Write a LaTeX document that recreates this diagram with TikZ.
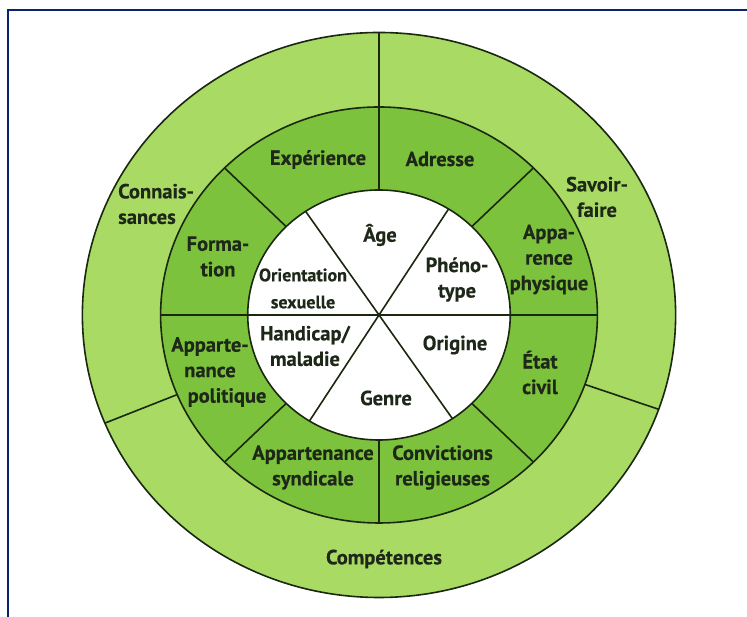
\documentclass[tikz,border=0pt]{standalone}
\usepackage{fontspec}
\setmainfont{PT Sans}[BoldFeatures={FakeBold=0.4}]
\definecolor{outerC}{RGB}{168,218,100}
\definecolor{midC}{RGB}{125,194,60}
\definecolor{lineC}{RGB}{25,40,15}
\definecolor{textC}{RGB}{30,40,25}
\definecolor{frameC}{RGB}{10,35,110}
\begin{document}
\begin{tikzpicture}[x=1pt,y=1pt,
  ring/.style={draw=lineC, line width=1.6pt},
  sep/.style={draw=lineC, line width=1.6pt},
  frame/.style={draw=frameC, line width=2pt},
  lbl/.style={text=textC, font=\fontsize{20.5}{25.5}\selectfont\bfseries, align=center, inner sep=0pt},
  slbl/.style={lbl, font=\fontsize{18}{27}\selectfont\bfseries},
]
\useasboundingbox (0,0) rectangle (747,617);
\fill[white] (0,0) rectangle (747,617);
\draw[frame] (8,0) -- (8,607) -- (747,607);
\begin{scope}[shift={(379,302)}, xscale=1.05]
  \fill[outerC] (0,0) circle[radius=282.5];
  \fill[midC] (0,0) circle[radius=208];
  \fill[white] (0,0) circle[radius=125];
  % outer ring separators
  \draw[sep] (90:208) -- (90:282.5);
  \draw[sep] (202.5:208) -- (202.5:282.5);
  \draw[sep] (-19.5:208) -- (-19.5:282.5);
  % middle ring separators
  \foreach \a in {45,90,135,225,270,315}
    \draw[sep] (\a:125) -- (\a:208);
  \draw[sep] (180:208) -- (0:208);
  % inner separators
  \draw[sep] (58:125) -- (238:125);
  \draw[sep] (124:125) -- (304:125);
  % outlines
  \draw[ring] (0,0) circle[radius=282.5];
  \draw[ring] (0,0) circle[radius=208];
  \draw[ring] (0,0) circle[radius=125];
\end{scope}
% outer ring labels
\node[lbl] (comp) at (384,58) {Compétences};
\node[lbl, align=left, anchor=west] (conn) at (118,413) {Connais-\\sances};
\node[lbl] (savo) at (597,420) {Savoir-\\faire};
% middle ring labels
\node[lbl] (expe) at (318,457.5) {Expérience};
\node[lbl] (adre) at (440,458) {Adresse};
\node[lbl] (appa) at (549,357.5) {Appa-\\rence\\physique};
\node[lbl] (form) at (218,360.5) {Forma-\\tion};
\node[lbl] (poli) at (210,245) {Apparte-\\nance\\\hspace*{34pt}politique};
\node[lbl] (synd) at (313,149.5) {Appartenance\\syndicale};
\node[lbl] (conv) at (442.5,149.5) {Convictions\\religieuses};
\node[lbl] (etat) at (540,244.5) {État\\civil};
% inner labels
\node[lbl] (age) at (380,382) {Âge};
\node[lbl] (phen) at (457,337.5) {Phéno-\\type};
\node[slbl] (orie) at (303,328.5) {Orientation\\sexuelle};
\node[lbl] (hand) at (305,271) {Handicap/\\maladie};
\node[lbl] (orig) at (455,272) {Origine};
\node[lbl] (genr) at (386,219) {Genre};
\end{tikzpicture}
\end{document}
